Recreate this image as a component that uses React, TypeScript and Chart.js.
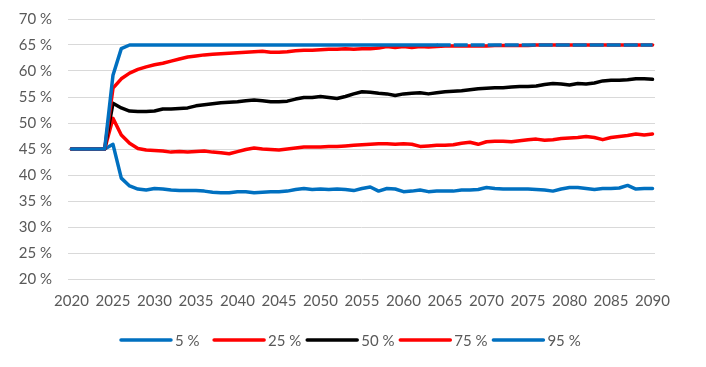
import React, { useEffect, useRef } from "react";
import { Chart, registerables } from "chart.js";

Chart.register(...registerables);

const years = [
  2020, 2021, 2022, 2023, 2024, 2025, 2026, 2027, 2028, 2029,
  2030, 2031, 2032, 2033, 2034, 2035, 2036, 2037, 2038, 2039,
  2040, 2041, 2042, 2043, 2044, 2045, 2046, 2047, 2048, 2049,
  2050, 2051, 2052, 2053, 2054, 2055, 2056, 2057, 2058, 2059,
  2060, 2061, 2062, 2063, 2064, 2065, 2066, 2067, 2068, 2069,
  2070, 2071, 2072, 2073, 2074, 2075, 2076, 2077, 2078, 2079,
  2080, 2081, 2082, 2083, 2084, 2085, 2086, 2087, 2088, 2089, 2090,
];

const xTicks = [2020, 2025, 2030, 2035, 2040, 2045, 2050, 2055, 2060, 2065, 2070, 2075, 2080, 2085, 2090];

const p5 = [
  45, 45, 45, 45, 45, 45.9, 39.4, 37.9, 37.3, 37.1,
  37.4, 37.3, 37.1, 37.0, 37.0, 37.0, 36.9, 36.7, 36.6, 36.6,
  36.8, 36.8, 36.6, 36.7, 36.8, 36.8, 36.9, 37.2, 37.4, 37.2,
  37.3, 37.2, 37.3, 37.2, 37.0, 37.4, 37.7, 36.9, 37.4, 37.3,
  36.8, 36.9, 37.1, 36.8, 36.9, 36.9, 36.9, 37.1, 37.1, 37.2,
  37.6, 37.4, 37.3, 37.3, 37.3, 37.3, 37.2, 37.1, 36.9, 37.3,
  37.6, 37.6, 37.4, 37.2, 37.4, 37.4, 37.5, 38.0, 37.3, 37.4, 37.4,
];

const p25 = [
  45, 45, 45, 45, 45, 50.9, 47.7, 46.1, 45.1, 44.8,
  44.7, 44.6, 44.4, 44.5, 44.4, 44.5, 44.6, 44.4, 44.3, 44.1,
  44.5, 44.9, 45.2, 45.0, 44.9, 44.8, 45.0, 45.2, 45.4, 45.4,
  45.4, 45.5, 45.5, 45.6, 45.7, 45.8, 45.9, 46.0, 46.0, 45.9,
  46.0, 45.9, 45.5, 45.6, 45.7, 45.7, 45.8, 46.1, 46.3, 45.9,
  46.4, 46.5, 46.5, 46.4, 46.6, 46.8, 46.9, 46.7, 46.8, 47.0,
  47.1, 47.2, 47.4, 47.2, 46.8, 47.2, 47.4, 47.6, 47.9, 47.7, 47.9,
];

const p50 = [
  45, 45, 45, 45, 45, 53.8, 52.9, 52.3, 52.2, 52.2,
  52.3, 52.7, 52.7, 52.8, 52.9, 53.3, 53.5, 53.7, 53.9, 54.0,
  54.1, 54.3, 54.4, 54.3, 54.1, 54.1, 54.2, 54.6, 54.9, 54.9,
  55.1, 54.9, 54.7, 55.1, 55.6, 56.0, 55.9, 55.7, 55.6, 55.3,
  55.6, 55.7, 55.8, 55.6, 55.8, 56.0, 56.1, 56.2, 56.4, 56.6,
  56.7, 56.8, 56.8, 56.9, 57.0, 57.0, 57.1, 57.4, 57.6, 57.5,
  57.3, 57.6, 57.5, 57.7, 58.1, 58.2, 58.2, 58.3, 58.5, 58.5, 58.4,
];

const p75 = [
  45, 45, 45, 45, 45, 56.7, 58.5, 59.6, 60.3, 60.8,
  61.2, 61.5, 61.9, 62.3, 62.7, 62.9, 63.1, 63.2, 63.3, 63.4,
  63.5, 63.6, 63.7, 63.8, 63.6, 63.6, 63.7, 63.9, 64.0, 64.0,
  64.1, 64.2, 64.2, 64.3, 64.2, 64.3, 64.3, 64.4, 64.7, 64.5,
  64.7, 64.5, 64.7, 64.6, 64.7, 64.8, 64.8, 64.8, 64.8, 64.8,
  64.8, 64.9, 64.9, 64.9, 64.9, 64.9, 65, 65, 65, 65,
  65, 65, 65, 65, 65, 65, 65, 65, 65, 65, 65,
];

const p95 = [
  45, 45, 45, 45, 45, 59.2, 64.3, 65, 65, 65,
  65, 65, 65, 65, 65, 65, 65, 65, 65, 65,
  65, 65, 65, 65, 65, 65, 65, 65, 65, 65,
  65, 65, 65, 65, 65, 65, 65, 65, 65, 65,
  65, 65, 65, 65, 65, 65, 65, 65, 65, 65,
  65, 65, 65, 65, 65, 65, 65, 65, 65, 65,
  65, 65, 65, 65, 65, 65, 65, 65, 65, 65, 65,
];

const seriesLabels = ["5 %", "25 %", "50 %", "75 %", "95 %"];
const seriesData = [p5, p25, p50, p75, p95];
const seriesColors = ["#0070C0", "#FF0000", "#000000", "#FF0000", "#0070C0"];

const FONT = "Lato, 'Open Sans', sans-serif";
const TEXT = "#595959";

const legendPlugin = {
  id: "slotLegend",
  afterDraw(chart: any) {
    const ctx = chart.ctx;
    const y = 340;
    const x0 = 121;
    const step = 93.1;
    ctx.save();
    ctx.font = `15px ${FONT}`;
    ctx.textBaseline = "middle";
    ctx.textAlign = "left";
    chart.data.datasets.forEach((ds: any, i: number) => {
      const x = x0 + i * step;
      ctx.beginPath();
      ctx.setLineDash([]);
      ctx.lineCap = "round";
      ctx.lineWidth = 3.5;
      ctx.strokeStyle = ds.borderColor;
      ctx.moveTo(x, y);
      ctx.lineTo(x + 50, y);
      ctx.stroke();
      ctx.fillStyle = TEXT;
      ctx.fillText(ds.label, x + 54, y + 1);
    });
    ctx.restore();
  },
};

export default function App() {
  const ref = useRef<HTMLCanvasElement | null>(null);

  useEffect(() => {
    document.body.style.margin = "0";
    const canvas = ref.current;
    if (!canvas) return;
    const datasets = seriesLabels.map((label, i) => {
      const ds: any = {
        label,
        data: years.map((yr, j) => ({ x: yr, y: seriesData[i][j] })),
        borderColor: seriesColors[i],
        backgroundColor: seriesColors[i],
        borderWidth: 3.5,
        pointRadius: 0,
        tension: 0,
        borderCapStyle: "round",
        borderJoinStyle: "round",
        order: 4 - i,
      };
      if (label === "95 %") {
        const dashed = (c: any) =>
          p75[c.p0DataIndex] >= 64.7 && p75[c.p1DataIndex] >= 64.7;
        ds.segment = {
          borderDash: (c: any) => (dashed(c) ? [14, 3] : undefined),
          borderCapStyle: (c: any) => (dashed(c) ? "butt" : undefined),
        };
      }
      return ds;
    });

    const chart = new Chart(canvas, {
      type: "line",
      data: { datasets },
      options: {
        animation: false,
        responsive: false,
        layout: { padding: { left: 0, right: 51, top: 19, bottom: 57 } },
        plugins: { legend: { display: false }, tooltip: { enabled: false } },
        scales: {
          x: {
            type: "linear",
            min: 2019.58,
            max: 2090.3,
            afterBuildTicks: (axis: any) => {
              axis.ticks = xTicks.map((v) => ({ value: v }));
            },
            afterFit: (axis: any) => {
              axis.height = 31;
              axis.paddingLeft = 0;
              axis.paddingRight = 0;
            },
            grid: { display: false, drawTicks: false },
            border: { display: false },
            ticks: {
              padding: 13,
              color: TEXT,
              font: { family: FONT, size: 15 },
              maxRotation: 0,
              autoSkip: false,
              callback: (v: any) => String(v),
            },
          },
          y: {
            min: 20,
            max: 70,
            afterFit: (axis: any) => {
              axis.width = 68;
              axis.paddingTop = 0;
              axis.paddingBottom = 0;
            },
            grid: { color: "#D9D9D9", lineWidth: 1, drawTicks: false },
            border: { display: false },
            ticks: {
              stepSize: 5,
              padding: 16,
              color: TEXT,
              font: { family: FONT, size: 15 },
              callback: (v: any) => `${v} %`,
            },
          },
        },
      },
      plugins: [legendPlugin],
    });
    return () => chart.destroy();
  }, []);

  return (
    <div style={{ width: 706, height: 367, background: "#fff" }}>
      <canvas ref={ref} width={706} height={367} />
    </div>
  );
}
